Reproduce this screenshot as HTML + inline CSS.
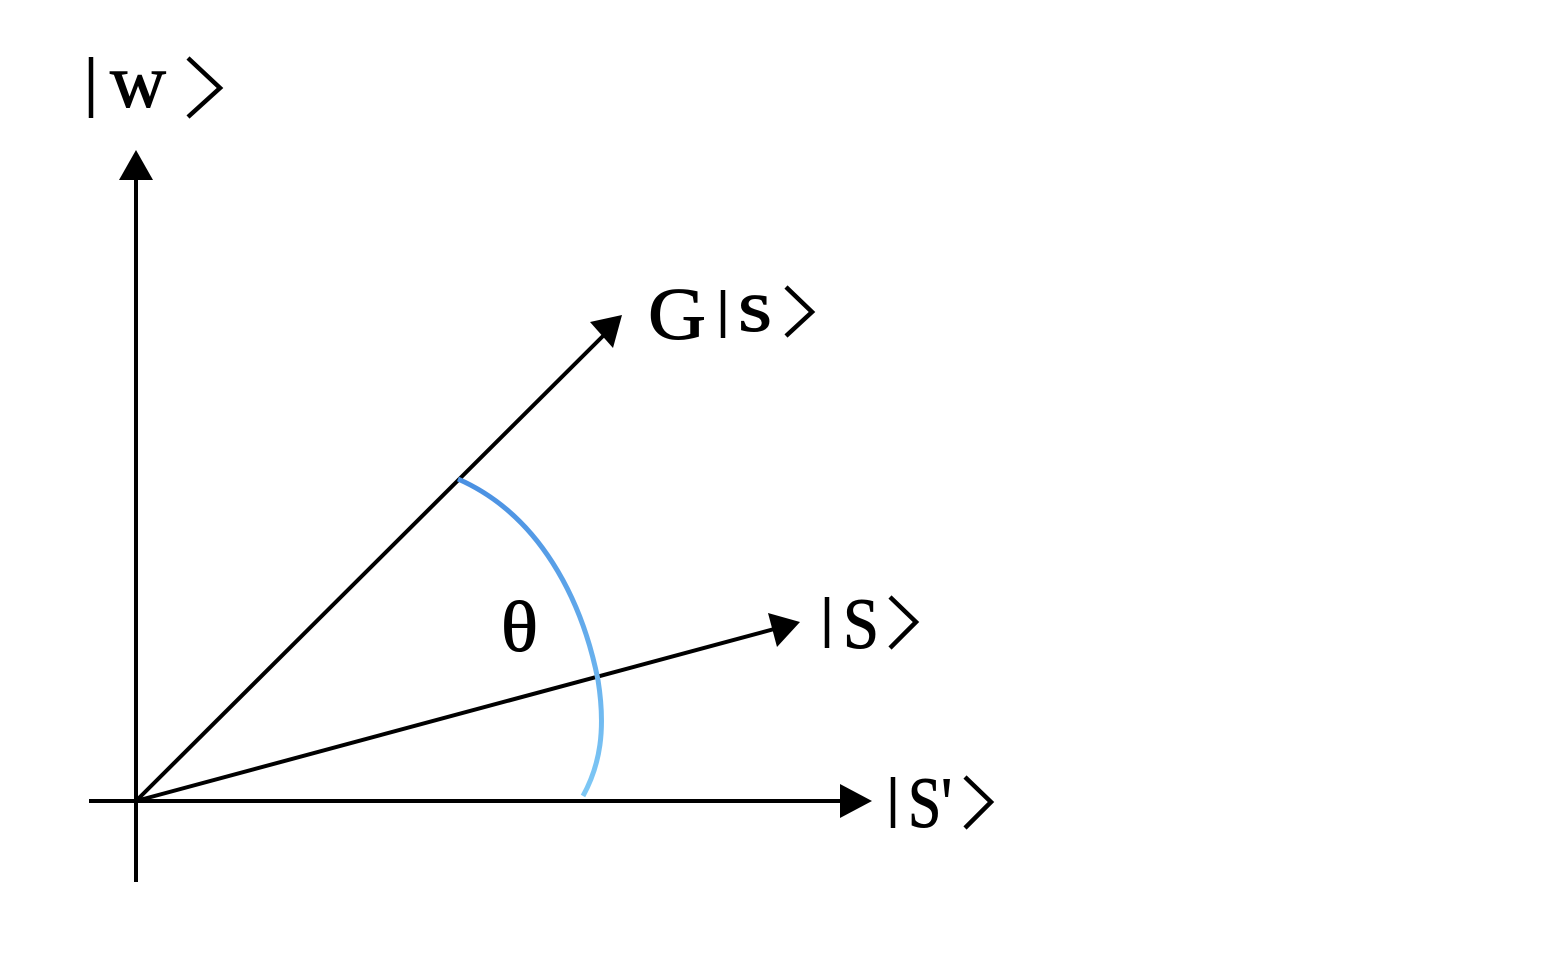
<!DOCTYPE html>
<html><head><style>html,body{margin:0;padding:0;background:#fff;}svg{display:block}</style></head>
<body>
<svg width="1560" height="954" viewBox="0 0 1560 954" xmlns="http://www.w3.org/2000/svg">
<defs>
<linearGradient id="g" x1="0" y1="0" x2="0" y2="1">
<stop offset="0" stop-color="#4a90e2"/><stop offset="1" stop-color="#7ec8f5"/>
</linearGradient>
</defs>
<g stroke="#000" stroke-width="4" fill="none">
<line x1="136" y1="882" x2="136" y2="175"/>
<line x1="89" y1="801" x2="845" y2="801"/>
<line x1="136" y1="801" x2="608" y2="331"/>
<line x1="136" y1="801" x2="778" y2="628"/>
</g>
<g fill="#000">
<polygon points="136,150 119,180 153,180"/>
<polygon points="872,801 840,784 840,818"/>
<polygon points="622,315 590,322 613,348"/>
<polygon points="800,622 768,613 777,647"/>
</g>
<path d="M458,479 C540,515 582,600 598,680 C606,730 600,765 583,796" stroke="url(#g)" stroke-width="5" fill="none"/>
<g font-family="Liberation Serif, serif" fill="#000" stroke="#000" stroke-width="1">
<text x="110" y="107" font-size="76" textLength="56" lengthAdjust="spacingAndGlyphs">w</text>
<text x="648" y="339" font-size="74" textLength="58" lengthAdjust="spacingAndGlyphs">G</text>
<text x="738" y="331" font-size="74" textLength="34" lengthAdjust="spacingAndGlyphs">s</text>
<text x="843" y="648" font-size="72" textLength="36" lengthAdjust="spacingAndGlyphs">S</text>
<text x="908" y="827" font-size="72" textLength="44" lengthAdjust="spacingAndGlyphs">S'</text>
<text x="501" y="651" font-size="72" textLength="37" lengthAdjust="spacingAndGlyphs">θ</text>
</g>
<g stroke="#000" stroke-width="4.5" fill="none">
<line x1="91" y1="57" x2="91" y2="118"/>
<polyline points="188,58 220,88 188,117"/>
<line x1="723" y1="290" x2="723" y2="338"/>
<polyline points="786,287 812,312 786,336"/>
<line x1="827" y1="597" x2="827" y2="648"/>
<polyline points="890,597 916,622 890,648"/>
<line x1="893" y1="777" x2="893" y2="828"/>
<polyline points="965,777 991,802 965,828"/>
</g>
</svg>
</body></html>
